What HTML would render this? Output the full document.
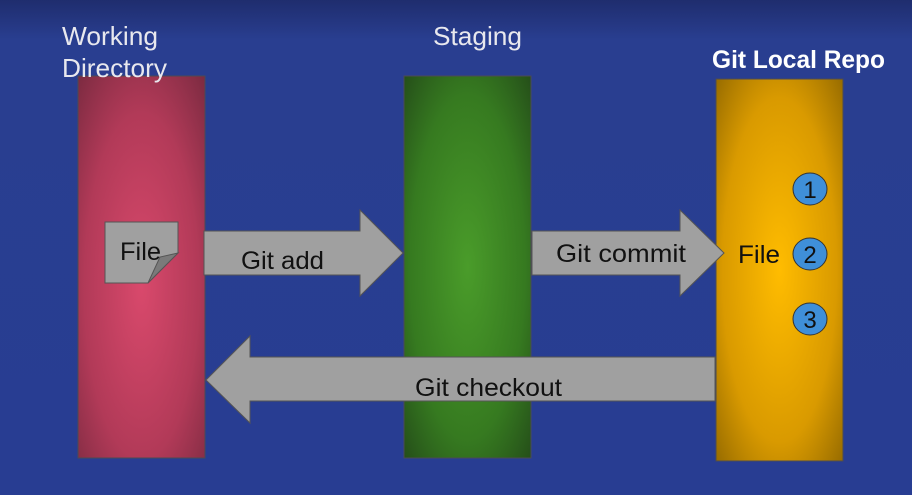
<!DOCTYPE html>
<html><head><meta charset="utf-8"><style>
html,body{margin:0;padding:0;width:912px;height:495px;overflow:hidden;}
svg{display:block}
text{font-family:"Liberation Sans",sans-serif;}
</style></head><body>
<svg width="912" height="495" viewBox="0 0 912 495" xmlns="http://www.w3.org/2000/svg">
<defs>
<linearGradient id="bg" x1="0" y1="0" x2="0" y2="1">
<stop offset="0" stop-color="#1f2d6e"/><stop offset="0.08" stop-color="#293e90"/><stop offset="1" stop-color="#283d92"/>
</linearGradient>
<radialGradient id="red" cx="0.5" cy="0.55" r="0.75">
<stop offset="0" stop-color="#d9496c"/><stop offset="0.6" stop-color="#b23a58"/><stop offset="1" stop-color="#7a2a40"/>
</radialGradient>
<radialGradient id="green" cx="0.5" cy="0.5" r="0.75">
<stop offset="0" stop-color="#4a9c2a"/><stop offset="0.6" stop-color="#367a20"/><stop offset="1" stop-color="#224718"/>
</radialGradient>
<radialGradient id="gold" cx="0.5" cy="0.5" r="0.75">
<stop offset="0" stop-color="#ffbc00"/><stop offset="0.6" stop-color="#d99a00"/><stop offset="1" stop-color="#8c6400"/>
</radialGradient>
</defs>
<rect width="912" height="495" fill="url(#bg)"/>

<rect x="78" y="76" width="127" height="382" fill="url(#red)" stroke="#4a4a55" stroke-width="1"/>
<rect x="404" y="76" width="127" height="382" fill="url(#green)" stroke="#4a4a55" stroke-width="1"/>
<rect x="716" y="79" width="127" height="382" fill="url(#gold)" stroke="#4a4a55" stroke-width="1"/>

<text x="62" y="45" font-size="26" fill="#e8e8ee" textLength="96" lengthAdjust="spacingAndGlyphs">Working</text>
<text x="62" y="77" font-size="26" fill="#e8e8ee" textLength="105" lengthAdjust="spacingAndGlyphs">Directory</text>
<text x="433" y="45" font-size="26" fill="#e8e8ee" textLength="89" lengthAdjust="spacingAndGlyphs">Staging</text>
<text x="712" y="68" font-size="25" font-weight="bold" fill="#ffffff" textLength="173" lengthAdjust="spacingAndGlyphs">Git Local Repo</text>

<!-- file doc -->
<path d="M105,222 H178 V253 L148,283 H105 Z" fill="#a0a0a0" stroke="#555" stroke-width="1"/>
<path d="M178,253 L160,257 L148,283 Z" fill="#7a7a7a" stroke="#555" stroke-width="1"/>
<text x="120" y="260" font-size="25" fill="#111" textLength="41" lengthAdjust="spacingAndGlyphs">File</text>

<!-- git add -->
<path d="M204,231 H360 V210 L403,253 L360,296 V275 H204 Z" fill="#a0a0a0" stroke="#555" stroke-width="1"/>
<text x="241" y="269" font-size="25" fill="#111" textLength="83" lengthAdjust="spacingAndGlyphs">Git add</text>
<!-- git commit -->
<path d="M532,231 H680 V210 L724,253 L680,296 V275 H532 Z" fill="#a0a0a0" stroke="#555" stroke-width="1"/>
<text x="556" y="262" font-size="25" fill="#111" textLength="130" lengthAdjust="spacingAndGlyphs">Git commit</text>
<!-- checkout -->
<path d="M715,357 H250 V336 L206,380 L250,423 V401 H715 Z" fill="#a0a0a0" stroke="#555" stroke-width="1"/>
<text x="415" y="396" font-size="25" fill="#111" textLength="147" lengthAdjust="spacingAndGlyphs">Git checkout</text>

<text x="738" y="263" font-size="25" fill="#111" textLength="42" lengthAdjust="spacingAndGlyphs">File</text>
<g fill="#3f8fd8" stroke="#333" stroke-width="1">
<ellipse cx="810" cy="189" rx="17" ry="16"/>
<ellipse cx="810" cy="254" rx="17" ry="16"/>
<ellipse cx="810" cy="319" rx="17" ry="16"/>
</g>
<g font-size="24" fill="#111" text-anchor="middle">
<text x="810" y="198">1</text><text x="810" y="263">2</text><text x="810" y="328">3</text>
</g>
</svg>
</body></html>
